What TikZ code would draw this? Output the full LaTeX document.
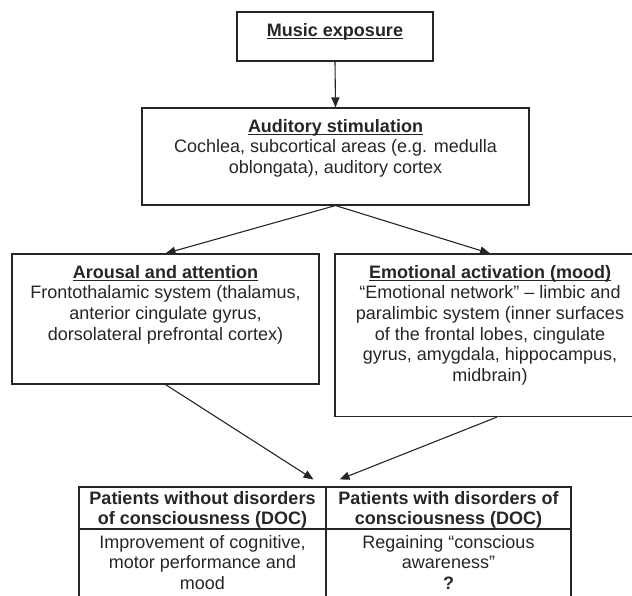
\documentclass[tikz,border=0pt]{standalone}
\usepackage{fontspec}
\setmainfont{Liberation Sans}
\usetikzlibrary{arrows.meta}
\definecolor{ink}{gray}{0.15}
\newsavebox\hdbox
\newcommand\hdul[1]{\sbox\hdbox{\bfseries #1}\rlap{\rule[-2.6bp]{\wd\hdbox}{1.2bp}}\usebox\hdbox}
\tikzset{
  box/.style={draw=ink, line width=1.1bp, inner sep=0pt, rectangle},
  txt/.style={text=ink, inner sep=0pt, align=center, font=\fontsize{18bp}{20.7bp}\selectfont, anchor=north},
  conn/.style={draw=ink, line width=1.1bp, -{Triangle[length=10bp,width=8bp]}}
}
\begin{document}
\begin{tikzpicture}[x=1bp,y=-1bp]
\useasboundingbox (0,0) rectangle (632,596);
\clip (0,0) rectangle (632,596);
% boxes
\node[box, minimum width=196bp, minimum height=49bp] (music) at (335,36.5) {};
\node[box, minimum width=387bp, minimum height=97bp] (aud) at (335.5,156.5) {};
\node[box, minimum width=307bp, minimum height=130bp] (arou) at (165.5,319) {};
\node[box, minimum width=310bp, minimum height=162.5bp] (emo) at (490,335.25) {};
\node[box, minimum width=247bp, minimum height=42bp] (hL) at (202.5,508) {};
\node[box, minimum width=245bp, minimum height=42bp] (hR) at (448.5,508) {};
\node[box, minimum width=247bp, minimum height=91bp] (bL) at (202.5,574.5) {};
\node[box, minimum width=245bp, minimum height=91bp] (bR) at (448.5,574.5) {};
% texts
\node[txt] (musict) at ([yshift=-11.5bp]music.north) {\hdul{Music exposure}};
\node[txt] (audt) at ([yshift=-11.5bp]aud.north) {\hdul{Auditory stimulation}\\Cochlea, subcortical areas (e.g. medulla\\oblongata), auditory cortex};
\node[txt] (aroutx) at ([yshift=-11.5bp]arou.north) {\hdul{Arousal and attention}\\Frontothalamic system (thalamus,\\anterior cingulate gyrus,\\dorsolateral prefrontal cortex)};
\node[txt] (emot) at ([yshift=-11.5bp]emo.north) {\hdul{Emotional activation (mood)}\\“Emotional network” – limbic and\\paralimbic system (inner surfaces\\of the frontal lobes, cingulate\\gyrus, amygdala, hippocampus,\\midbrain)};
\node[txt, font=\fontsize{18bp}{20.7bp}\selectfont\bfseries] (hLt) at ([yshift=-4.5bp]hL.north) {Patients without disorders\\of consciousness (DOC)};
\node[txt, font=\fontsize{18bp}{20.7bp}\selectfont\bfseries] (hRt) at ([yshift=-4.5bp]hR.north) {Patients with disorders of\\consciousness (DOC)};
\node[txt] (bLt) at ([yshift=-6.5bp]bL.north) {Improvement of cognitive,\\motor performance and\\mood};
\node[txt] (bRt) at ([yshift=-6.5bp]bR.north) {Regaining “conscious\\awareness”\\\textbf{?}};
% arrow targets
\coordinate (tipL) at ([xshift=-13bp,yshift=7bp]hL.north east);
\coordinate (tipR) at ([xshift=13bp,yshift=7bp]hL.north east);
% connectors
\draw[conn] (music.south) -- (aud.north);
\draw[conn] (aud.south) -- (arou.north);
\draw[conn] (aud.south) -- (emo.north);
\draw[conn] (arou.south) -- (tipL);
\draw[conn] ([xshift=7bp]emo.south) -- (tipR);
\end{tikzpicture}
\end{document}
